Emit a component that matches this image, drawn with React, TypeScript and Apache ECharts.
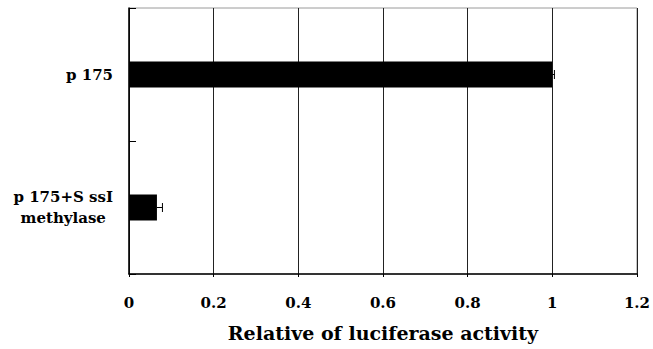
import React, { useEffect, useRef } from "react";
import * as echarts from "echarts";

const categories = ["p 175", "p 175+S ssI\nmethylase"];
const values = [1.0, 0.066];
const errors = [0.005, 0.013];
const xTicks = { min: 0, max: 1.2, interval: 0.2 };
const xName = "Relative of luciferase activity";

const FONT = "'DejaVu Serif', serif";

export default function App() {
  const ref = useRef<HTMLDivElement>(null);
  useEffect(() => {
    if (!ref.current) return;
    const chart = echarts.init(ref.current, undefined, { renderer: "svg" });
    chart.setOption({
      animation: false,
      backgroundColor: "#ffffff",
      grid: {
        left: 129,
        right: 16,
        top: 8,
        bottom: 75,
        show: true,
        borderColor: "#9a9a9a",
        borderWidth: 1,
        backgroundColor: "transparent",
      },
      xAxis: {
        type: "value",
        min: xTicks.min,
        max: xTicks.max,
        interval: xTicks.interval,
        name: xName,
        nameLocation: "middle",
        nameGap: 49,
        nameTextStyle: { fontFamily: FONT, fontWeight: "bold", fontSize: 19, color: "#000" },
        axisLine: { show: true, lineStyle: { color: "#000", width: 1.5 } },
        axisTick: { show: true, length: 3, lineStyle: { color: "#000" } },
        axisLabel: {
          fontFamily: FONT,
          fontWeight: "bold",
          fontSize: 15,
          color: "#000",
          margin: 21,
          formatter: (v: number) => String(Math.round(v * 10) / 10),
        },
        splitLine: { show: true, lineStyle: { color: "#222", width: 1 } },
      },
      yAxis: {
        type: "category",
        data: categories,
        inverse: true,
        axisLine: { show: true, lineStyle: { color: "#000", width: 1.5 } },
        axisTick: { show: true, inside: true, length: 7, lineStyle: { color: "#000" } },
        axisLabel: {
          fontFamily: FONT,
          fontWeight: "bold",
          fontSize: 15,
          color: "#000",
          margin: 16,
          lineHeight: 21,
          align: "right",
          formatter: (v: string) =>
            v
              .split("\n")
              .map((s) => "{c|" + s + "}")
              .join("\n"),
          rich: {
            c: {
              align: "center",
              fontFamily: FONT,
              fontWeight: "bold",
              fontSize: 15,
              color: "#000",
              lineHeight: 21,
            },
          },
        },
        splitLine: { show: false },
      },
      series: [
        {
          type: "bar",
          data: values,
          barWidth: 26,
          itemStyle: { color: "#000" },
        },
        {
          type: "custom",
          data: values.map((v, i) => [v, i, errors[i]]),
          renderItem: (params: any, api: any) => {
            const v = api.value(0);
            const i = api.value(1);
            const e = api.value(2);
            const p0 = api.coord([v, i]);
            const p1 = api.coord([v + e, i]);
            return {
              type: "group",
              children: [
                {
                  type: "line",
                  shape: { x1: p0[0], y1: p0[1], x2: p1[0], y2: p1[1] },
                  style: { stroke: "#000", lineWidth: 1 },
                },
                {
                  type: "line",
                  shape: { x1: p1[0], y1: p1[1] - 4.5, x2: p1[0], y2: p1[1] + 4.5 },
                  style: { stroke: "#000", lineWidth: 1 },
                },
              ],
            };
          },
          z: 5,
        },
      ],
    });
    return () => chart.dispose();
  }, []);
  return <div ref={ref} style={{ width: 653, height: 349, position: "absolute", left: 0, top: 0 }} />;
}
